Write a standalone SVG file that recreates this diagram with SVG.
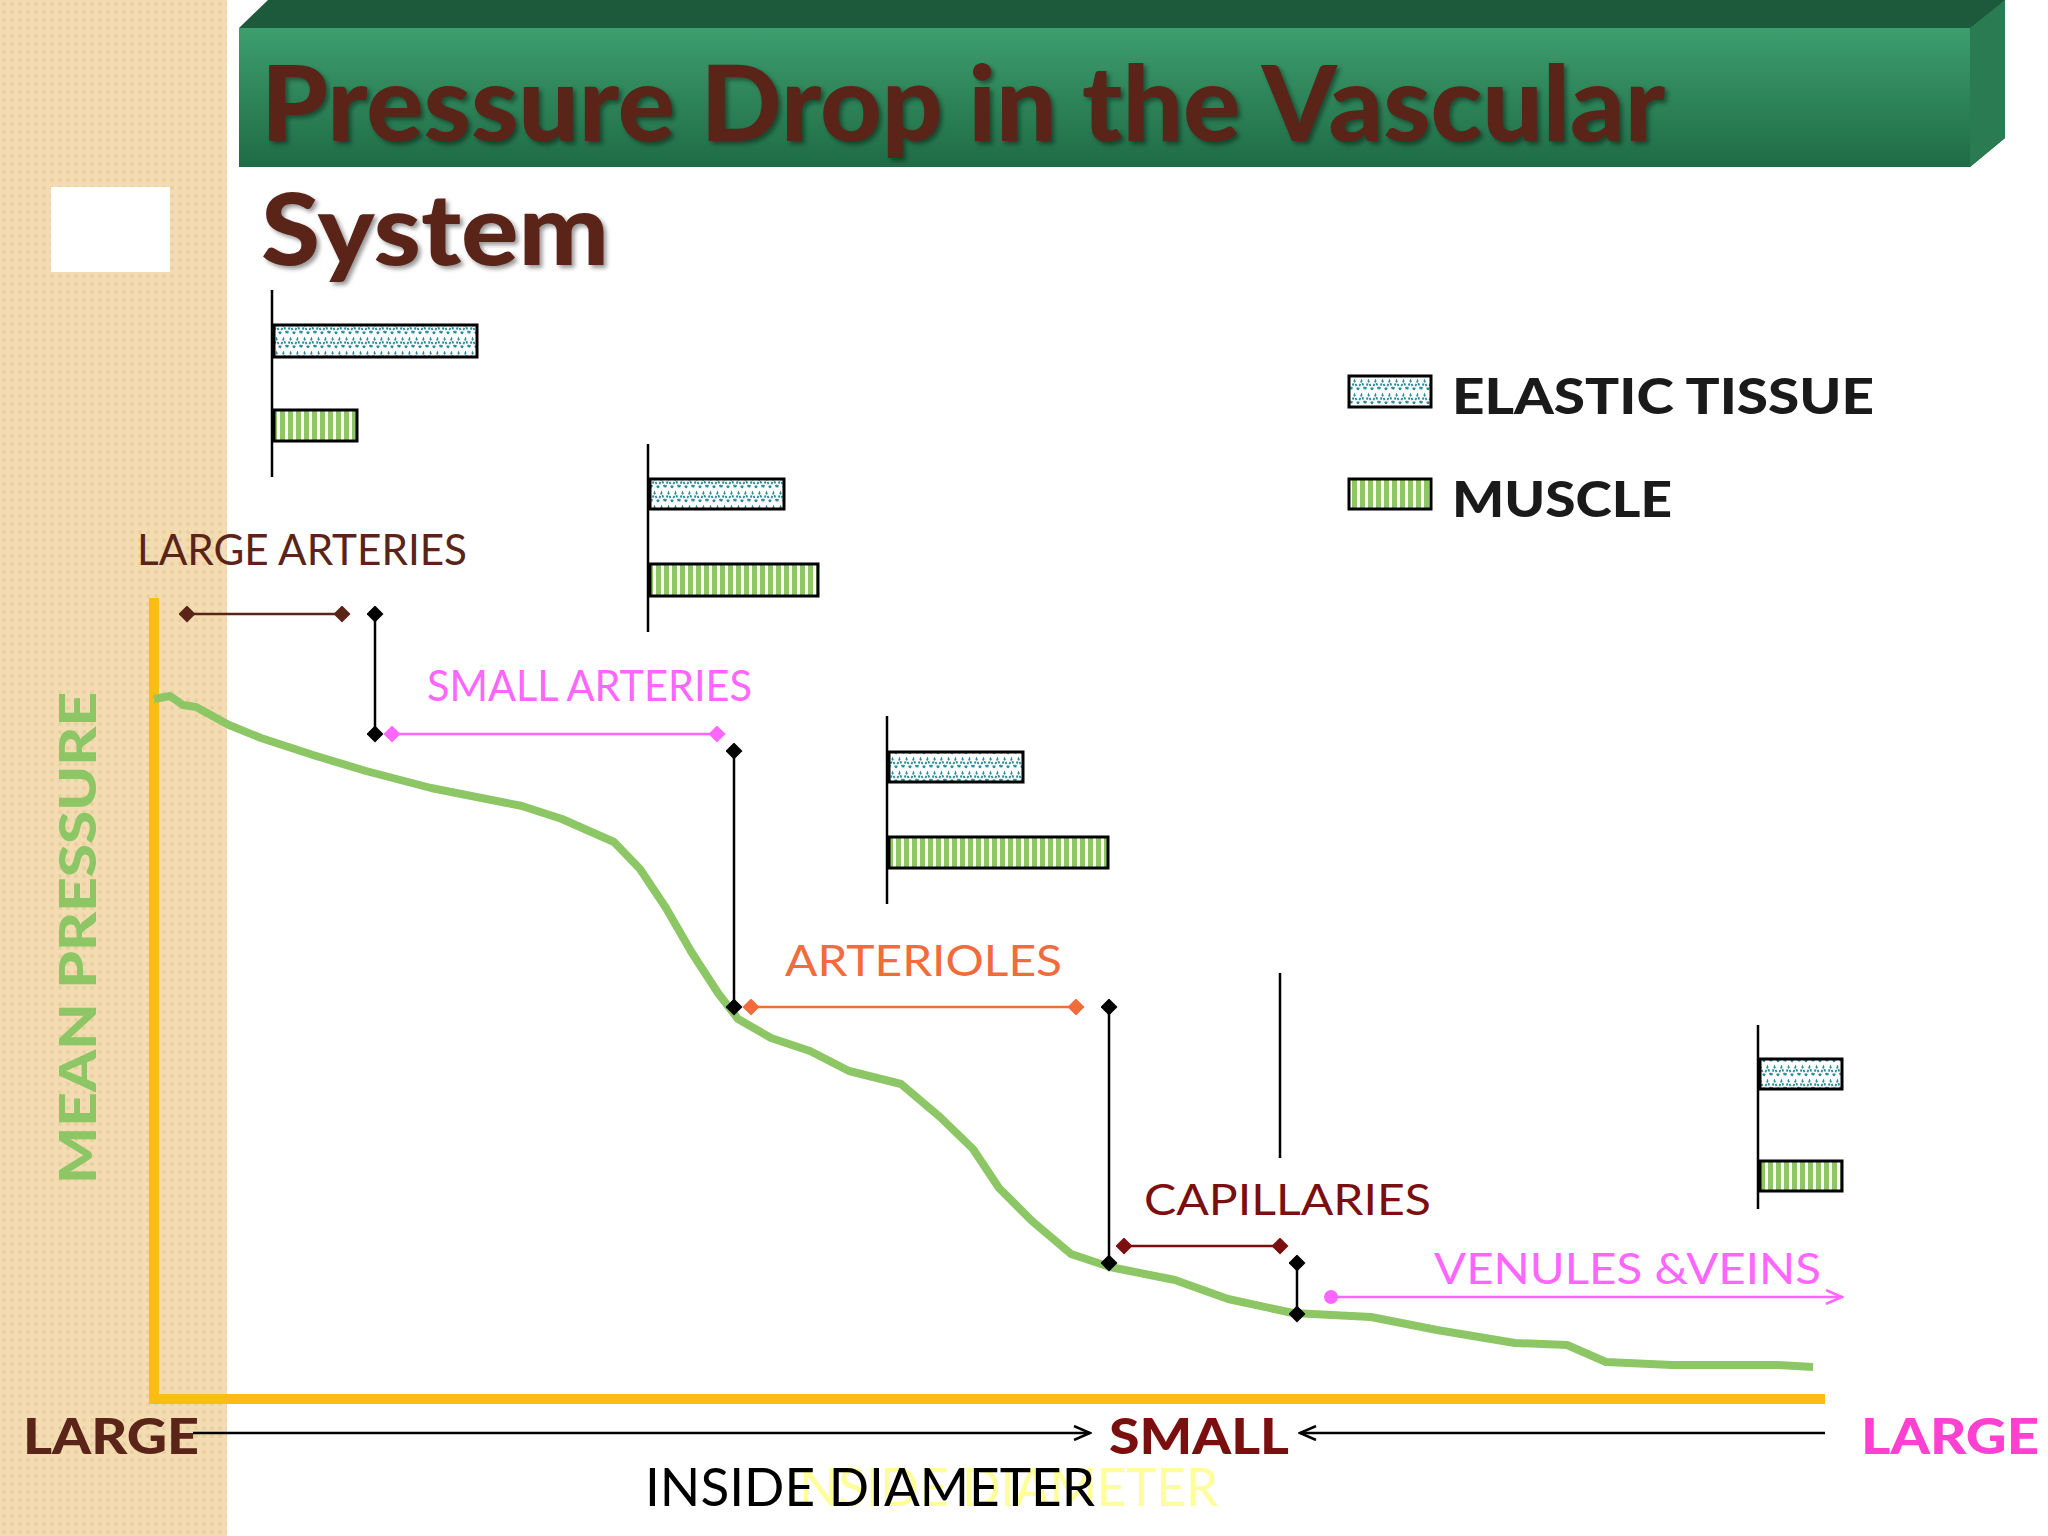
<svg xmlns="http://www.w3.org/2000/svg" width="2048" height="1536" viewBox="0 0 2048 1536">
<defs>
<pattern id="dots" width="8" height="8" patternUnits="userSpaceOnUse"><rect width="8" height="8" fill="#f3dcb2"/><circle cx="4" cy="4" r="2" fill="#e9cf9f"/></pattern>
<pattern id="zig" width="14" height="14" patternUnits="userSpaceOnUse"><rect width="14" height="14" fill="#fff"/><path d="M0 12 L3.5 3 L7 12 L10.5 3 L14 12" fill="none" stroke="#2e8b9a" stroke-width="1.8" stroke-dasharray="2.5 1.5"/></pattern>
<pattern id="stripe" width="8" height="10" patternUnits="userSpaceOnUse"><rect width="8" height="10" fill="#fff"/><rect width="5" height="10" fill="#8cc665"/></pattern>
<linearGradient id="gb" x1="0" y1="0" x2="0" y2="1"><stop offset="0" stop-color="#3d9e6e"/><stop offset="1" stop-color="#1f6b45"/></linearGradient>
<marker id="dk" viewBox="-8 -8 16 16" markerWidth="17" markerHeight="17" markerUnits="userSpaceOnUse"><path d="M0 -8 L8 0 L0 8 L-8 0Z" fill="context-stroke"/></marker>
<marker id="db" viewBox="-8 -8 16 16" markerWidth="17" markerHeight="17" markerUnits="userSpaceOnUse"><path d="M0 -8 L8 0 L0 8 L-8 0Z" fill="#000"/></marker>
<marker id="ar" viewBox="0 0 20 16" refX="18" refY="8" markerWidth="20" markerHeight="16" markerUnits="userSpaceOnUse" orient="auto"><path d="M2 1 L18 8 L2 15" fill="none" stroke="context-stroke" stroke-width="2.5"/></marker>
</defs>
<style>
.t{font-family:Lato,"Open Sans",sans-serif}
.lbl{font-family:Lato,"Open Sans",sans-serif;font-size:43px}
.bold{font-family:Lato,"Open Sans",sans-serif;font-weight:900}
.ax{stroke:#000;stroke-width:2.5}
.el{fill:url(#zig);stroke:#000;stroke-width:3}
.mu{fill:url(#stripe);stroke:#000;stroke-width:3}
</style>
<rect width="2048" height="1536" fill="#fff"/>
<rect x="0" y="0" width="227" height="1536" fill="url(#dots)"/>
<rect x="51" y="187" width="119" height="85" fill="#fff"/>
<g id="banner">
<polygon points="239,28 268,0 2005,0 2005,138 1970,167 1970,28" fill="#1d5a3c"/>
<rect x="239" y="28" width="1731" height="139" fill="url(#gb)"/>
<polygon points="1970,28 2005,0 2005,138 1970,167" fill="#2a7a52"/>
<text x="261" y="141" class="bold" font-size="104" fill="#5a2418" textLength="1404" lengthAdjust="spacingAndGlyphs" style="filter:drop-shadow(3px 3px 2px rgba(0,0,0,.4))">Pressure Drop in the Vascular</text>
<text x="261" y="265" class="bold" font-size="100" fill="#5a2418" textLength="348" lengthAdjust="spacingAndGlyphs" style="filter:drop-shadow(3px 3px 2px rgba(0,0,0,.4))">System</text>
</g>
<g id="bars1"><line x1="272" y1="290" x2="272" y2="477" class="ax"/><rect x="274" y="325" width="203" height="32" class="el"/><rect x="274" y="410" width="83" height="31" class="mu"/></g>
<g id="bars2"><line x1="648" y1="444" x2="648" y2="632" class="ax"/><rect x="650" y="479" width="134" height="30" class="el"/><rect x="650" y="564" width="168" height="32" class="mu"/></g>
<g id="bars3"><line x1="887" y1="716" x2="887" y2="904" class="ax"/><rect x="889" y="752" width="134" height="30" class="el"/><rect x="889" y="837" width="219" height="31" class="mu"/></g>
<g id="bars4"><line x1="1280" y1="973" x2="1280" y2="1158" class="ax"/></g>
<g id="bars5"><line x1="1758" y1="1025" x2="1758" y2="1209" class="ax"/><rect x="1760" y="1059" width="82" height="30" class="el"/><rect x="1760" y="1161" width="82" height="30" class="mu"/></g>
<g id="legend">
<rect x="1349" y="376" width="82" height="31" class="el"/><text x="1452" y="414" class="bold" font-size="50" fill="#1a1a1a" textLength="422" lengthAdjust="spacingAndGlyphs">ELASTIC TISSUE</text>
<rect x="1349" y="479" width="82" height="30" class="mu"/><text x="1452" y="517" class="bold" font-size="50" fill="#1a1a1a" textLength="220" lengthAdjust="spacingAndGlyphs">MUSCLE</text>
</g>
<g id="axes" stroke="#fbbd10" stroke-width="10" fill="none"><polyline points="154,598 154,1399 1825,1399"/></g>
<text transform="translate(96,938) rotate(-90)" text-anchor="middle" class="bold" font-size="52" fill="#8cc665" textLength="492" lengthAdjust="spacingAndGlyphs">MEAN PRESSURE</text>
<g id="curve"><polyline fill="none" stroke="#8cc665" stroke-width="8" stroke-linejoin="round" points="154,699 170,696 183,705 196,707 229,725 261,738 313,755 366,771 431,788 522,806 562,819 614,842 640,869 666,908 692,953 718,993 738,1019 771,1038 810,1051 849,1071 901,1084 940,1117 973,1149 999,1188 1032,1221 1071,1254 1110,1267 1175,1280 1228,1299 1293,1313 1371,1317 1437,1330 1515,1343 1567,1345 1606,1362 1672,1365 1776,1365 1813,1367"/></g>
<g id="connectors" fill="none">
<line x1="187" y1="614" x2="342" y2="614" stroke="#5a2418" stroke-width="2.5" marker-start="url(#dk)" marker-end="url(#dk)"/>
<line x1="375" y1="614" x2="375" y2="734" class="ax" marker-start="url(#db)" marker-end="url(#db)"/>
<line x1="392" y1="734" x2="717" y2="734" stroke="#ff66ff" stroke-width="2.5" marker-start="url(#dk)" marker-end="url(#dk)"/>
<line x1="734" y1="751" x2="734" y2="1007" class="ax" marker-start="url(#db)" marker-end="url(#db)"/>
<line x1="751" y1="1007" x2="1076" y2="1007" stroke="#f26b3a" stroke-width="2.5" marker-start="url(#dk)" marker-end="url(#dk)"/>
<line x1="1109" y1="1007" x2="1109" y2="1263" class="ax" marker-start="url(#db)" marker-end="url(#db)"/>
<line x1="1124" y1="1246" x2="1280" y2="1246" stroke="#7b0e0e" stroke-width="2.5" marker-start="url(#dk)" marker-end="url(#dk)"/>
<line x1="1297" y1="1263" x2="1297" y2="1314" class="ax" marker-start="url(#db)" marker-end="url(#db)"/>
<line x1="1331" y1="1297" x2="1842" y2="1297" stroke="#ff66ff" stroke-width="2.5" marker-end="url(#ar)"/>
<circle cx="1331" cy="1297" r="7" fill="#ff66ff"/>
<line x1="193" y1="1433" x2="1090" y2="1433" stroke="#000" stroke-width="2.5" marker-end="url(#ar)"/>
<line x1="1825" y1="1433" x2="1300" y2="1433" stroke="#000" stroke-width="2.5" marker-end="url(#ar)"/>
</g>
<g id="labels">
<text x="137" y="565" class="lbl" fill="#5a2418" textLength="330" lengthAdjust="spacingAndGlyphs">LARGE ARTERIES</text>
<text x="427" y="701" class="lbl" fill="#ff66ff" textLength="325" lengthAdjust="spacingAndGlyphs">SMALL ARTERIES</text>
<text x="785" y="976" class="lbl" font-size="47" fill="#f26b3a" textLength="277" lengthAdjust="spacingAndGlyphs">ARTERIOLES</text>
<text x="1144" y="1215" class="lbl" font-size="47" fill="#7b0e0e" textLength="287" lengthAdjust="spacingAndGlyphs">CAPILLARIES</text>
<text x="1434" y="1284" class="lbl" font-size="47" fill="#ff66ff" textLength="387" lengthAdjust="spacingAndGlyphs">VENULES &amp;VEINS</text>
<text x="23" y="1454" class="bold" font-size="50" fill="#5a2418" textLength="176" lengthAdjust="spacingAndGlyphs">LARGE</text>
<text x="1109" y="1454" class="bold" font-size="50" fill="#7b0e0e" textLength="180" lengthAdjust="spacingAndGlyphs">SMALL</text>
<text x="1861" y="1454" class="bold" font-size="50" fill="#ff40d0" textLength="178" lengthAdjust="spacingAndGlyphs">LARGE</text>
<text x="785" y="1506" class="t" font-size="52" fill="#ffff99" textLength="433" lengthAdjust="spacingAndGlyphs">INSIDE DIAMETER</text>
<text x="645" y="1506" class="t" font-size="52" fill="#000" textLength="450" lengthAdjust="spacingAndGlyphs">INSIDE DIAMETER</text>
</g>
</svg>
